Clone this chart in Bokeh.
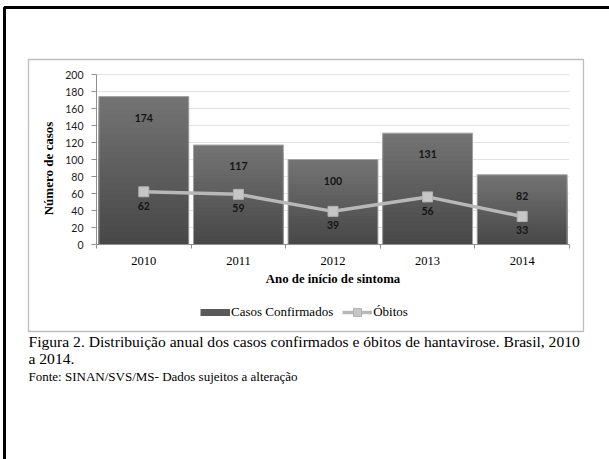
import numpy as np
from bokeh.plotting import figure
from bokeh.models import (ColumnDataSource, FixedTicker, Range1d, Label, BoxAnnotation,
                          Legend, LegendItem)
from bokeh.core.properties import value
from bokeh.embed import file_html
from bokeh.resources import INLINE

# ---- data ----
years = ["2010", "2011", "2012", "2013", "2014"]
casos = [174, 117, 100, 131, 82]
obitos = [62, 59, 39, 56, 33]
y_ticks = [0, 20, 40, 60, 80, 100, 120, 140, 160, 180, 200]

# ---- page geometry (pixels) ----
W, H = 609, 459
PX_L, PX_R, PY_T, PY_B = 96, 569, 74, 244
n = len(years)
YMAX = y_ticks[-1]
sx = (PX_R - PX_L) / n
sy = (PY_B - PY_T) / YMAX


def dx(px):
    return (px - PX_L) / sx


def dy(py):
    return (PY_B - py) / sy


x = np.arange(n) + 0.5
src = ColumnDataSource(dict(x=x, casos=casos, obitos=obitos,
                            casos_txt=[str(v) for v in casos],
                            obitos_txt=[str(v) for v in obitos]))

p = figure(width=W, height=H, output_backend="svg", toolbar_location=None,
           x_range=Range1d(dx(0), dx(W)), y_range=Range1d(dy(H), dy(0)),
           min_border=0, min_border_left=0, min_border_right=0,
           min_border_top=0, min_border_bottom=0,
           background_fill_color="white", border_fill_color="white",
           outline_line_color=None)
p.xgrid.visible = False
p.ygrid.visible = False

# gridlines (behind bars)
gt = [t for t in y_ticks if t > 0]
p.segment(x0=[0] * len(gt), x1=[n] * len(gt), y0=gt, y1=gt,
          line_color="#e2e2e2", line_width=1, level="underlay")

# gradient bars (lighter at the top, darker at the bottom)
n_layers = 24
top_c = np.array([0x73, 0x73, 0x73])
bot_c = np.array([0x48, 0x48, 0x48])
casos_arr = np.array(casos, dtype=float)
for k in range(n_layers):
    f = 1 - k / n_layers
    c = top_c + (bot_c - top_c) * (k / (n_layers - 1))
    col = "#%02x%02x%02x" % tuple(int(round(v)) for v in c)
    p.vbar(x=x, top=casos_arr * f, bottom=0, width=0.95, fill_color=col, line_color=None)
p.vbar(x="x", top="casos", bottom=0, width=0.95, fill_color=None,
       line_color="#a3a3a3", line_width=1, source=src)

# deaths line
line_r = p.line(x="x", y="obitos", source=src, line_color="#b8b8b8", line_width=3.5)
mark_r = p.scatter(x="x", y="obitos", source=src, marker="square", size=10,
                   fill_color="#c6c6c6", line_color="#b3b3b3")

# data labels
p.text(x="x", y="casos", text="casos_txt", source=src, text_align="center",
       text_baseline="middle", y_offset=21, text_font=value("Lato"),
       text_font_style="bold", text_font_size="10.5px", text_color="#151515")
p.text(x="x", y="obitos", text="obitos_txt", source=src, text_align="center",
       text_baseline="middle", y_offset=14, text_font=value("Lato"),
       text_font_style="bold", text_font_size="10.5px", text_color="#151515")

# y axis (fixed at x = 0)
ya = p.yaxis[0]
ya.fixed_location = 0
ya.bounds = (0, YMAX)
ya.ticker = FixedTicker(ticks=y_ticks)
ya.axis_line_color = "#8f8f8f"
ya.major_tick_line_color = "#8f8f8f"
ya.major_tick_out = 5
ya.major_tick_in = 0
ya.minor_tick_line_color = None
ya.major_label_standoff = 8
ya.major_label_text_font = "Lato"
ya.major_label_text_font_size = "10.5px"
ya.major_label_text_color = "#1a1a1a"

# x axis (fixed at y = 0)
serif = "Liberation Serif"
xa = p.xaxis[0]
xa.fixed_location = 0
xa.bounds = (0, n)
xa.ticker = FixedTicker(ticks=list(x), minor_ticks=list(range(n + 1)))
xa.major_label_overrides = {float(xv): yr for xv, yr in zip(x, years)}
xa.axis_line_color = "#8f8f8f"
xa.major_tick_line_color = None
xa.major_tick_out = 0
xa.major_tick_in = 0
xa.minor_tick_line_color = "#8f8f8f"
xa.minor_tick_out = 4
xa.minor_tick_in = 0
xa.major_label_standoff = 8
xa.major_label_text_font = serif
xa.major_label_text_font_size = "12.5px"
xa.major_label_text_color = "#000000"

# axis titles
p.add_layout(Label(x=dx(48), y=dy(168), text="Número de casos", angle=np.pi / 2,
                   text_align="center", text_baseline="middle", text_font=serif,
                   text_font_style="bold", text_font_size="13px", text_color="#000000"))
p.add_layout(Label(x=n / 2, y=dy(278), text="Ano de início de sintoma",
                   text_align="center", text_baseline="middle", text_font=serif,
                   text_font_style="bold", text_font_size="12.8px", text_color="#000000"))

# legend
nan2 = np.array([np.nan, np.nan])
dummy = p.line(x=nan2, y=nan2, line_color="#5a5a5a", line_width=7, line_cap="butt")
legend = Legend(items=[LegendItem(label="Casos Confirmados", renderers=[dummy]),
                       LegendItem(label="Óbitos", renderers=[line_r, mark_r])],
                orientation="horizontal", location=(200, H - 302 - 20),
                glyph_width=30, glyph_height=20, label_standoff=1, spacing=9,
                padding=0, margin=0, border_line_color=None,
                background_fill_alpha=0, label_text_font=serif,
                label_text_font_size="13px", label_text_color="#000000")
p.add_layout(legend)

# chart box and page border
p.add_layout(BoxAnnotation(left=dx(28), right=dx(583), top=dy(59), bottom=dy(331),
                           fill_alpha=0, line_color="#bdbdbd", line_alpha=1,
                           line_width=1.3))
p.add_layout(BoxAnnotation(left=dx(4), right=dx(W + 50), top=dy(7), bottom=dy(H + 50),
                           fill_alpha=0, line_color="#000000", line_alpha=1, line_width=3))

# caption
cap_kw = dict(text_align="left", text_baseline="middle", text_font=serif,
              text_color="#000000")
p.add_layout(Label(x=dx(28), y=dy(341),
                   text="Figura 2. Distribuição anual dos casos confirmados e óbitos de hantavirose. Brasil, 2010",
                   text_font_size="15.6px", **cap_kw))
p.add_layout(Label(x=dx(28), y=dy(358), text="a 2014.", text_font_size="15.6px", **cap_kw))
p.add_layout(Label(x=dx(28), y=dy(376), text="Fonte: SINAN/SVS/MS- Dados sujeitos a alteração",
                   text_font_size="13px", **cap_kw))

open("out.html", "w").write(file_html(p, INLINE))
